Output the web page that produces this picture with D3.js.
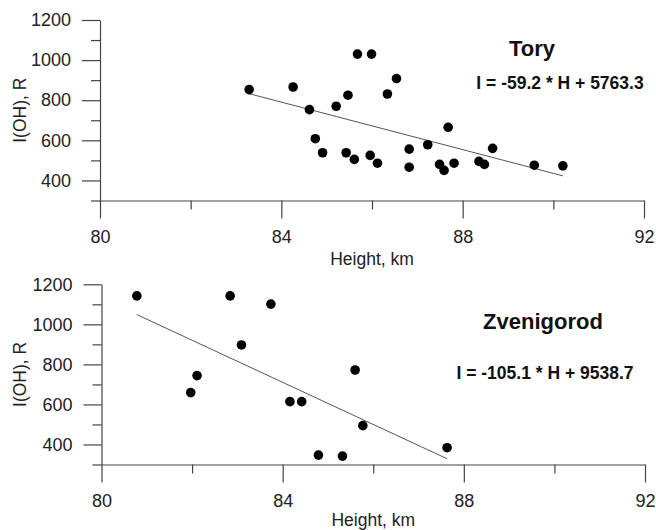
<!DOCTYPE html>
<html>
<head>
<meta charset="utf-8">
<style>
  body { margin: 0; background: #fff; }
  svg { display: block; font-family: "Liberation Sans", Arial, sans-serif; }
  .tick text { fill: #222; }
</style>
<script src="https://cdn.jsdelivr.net/npm/d3@7"></script>
</head>
<body>
<div id="chart"></div>
<script>
// Tory station
const toryHeight = [83.29, 84.26, 84.62, 84.75, 84.91, 85.21, 85.47, 85.68, 85.99, 86.54, 86.34,
  85.43, 85.61, 85.96, 86.12, 86.82, 86.82, 87.23, 87.68, 87.49, 87.59, 87.81, 88.36, 88.48,
  88.66, 89.58, 90.21];
const toryIntensity = [853, 866, 753, 608, 538, 770, 825, 1030, 1030, 908, 831,
  538, 505, 525, 486, 556, 466, 578, 665, 480, 450, 486, 495, 480,
  560, 476, 473];
const toryFit = [-59.2, 5763.3];

// Zvenigorod station
const zvenHeight = [80.78, 81.97, 82.11, 82.84, 83.09, 83.74, 84.16, 84.42, 84.79, 85.32, 85.60, 85.77, 87.63];
const zvenIntensity = [1142, 659, 744, 1142, 897, 1101, 614, 614, 347, 342, 772, 494, 384];
const zvenFit = [-105.1, 9538.7];

const xMajor = [80, 84, 88, 92];
const xMinor = [82, 86, 90];
const yMajor = [400, 600, 800, 1000, 1200];
const yMinor = [300, 500, 700, 900, 1100];

const width = 656, height = 530;
const svg = d3.select("#chart").append("svg")
  .attr("width", width).attr("height", height);

function drawPanel(p) {
  const x = d3.scaleLinear().domain([80, 92]).range([p.left, p.right]);
  const y = d3.scaleLinear().domain([300, 1200]).range([p.bottom, p.top]);
  const g = svg.append("g");

  // minor ticks
  g.append("g").attr("transform", `translate(0,${p.bottom})`)
    .call(d3.axisBottom(x).tickValues(xMinor).tickSize(9).tickSizeOuter(0).tickFormat(""))
    .call(a => a.select(".domain").remove());
  g.append("g").attr("transform", `translate(${p.left},0)`)
    .call(d3.axisLeft(y).tickValues(yMinor).tickSize(9).tickSizeOuter(0).tickFormat(""))
    .call(a => a.select(".domain").remove());

  // major ticks with labels
  const xa = g.append("g").attr("transform", `translate(0,${p.bottom})`)
    .call(d3.axisBottom(x).tickValues(xMajor).tickFormat(d3.format("d"))
      .tickSize(18).tickSizeOuter(0).tickPadding(12));
  const ya = g.append("g").attr("transform", `translate(${p.left},0)`)
    .call(d3.axisLeft(y).tickValues(yMajor).tickFormat(d3.format("d"))
      .tickSize(18).tickSizeOuter(0).tickPadding(11));

  [xa, ya].forEach(a => a.selectAll("text").style("font-size", "18px").attr("font-family", null));
  g.selectAll(".tick line, .domain").attr("stroke", "#444").attr("stroke-width", 1.2);

  // axis titles
  g.append("text")
    .attr("x", (p.left + p.right) / 2).attr("y", p.xLabelY)
    .attr("text-anchor", "middle")
    .style("font-size", "17.5px").attr("fill", "#222")
    .text("Height, km");
  g.append("text")
    .attr("transform", `translate(20,${(p.top + p.bottom) / 2}) rotate(-90)`)
    .attr("text-anchor", "middle").attr("dy", "0.35em")
    .style("font-size", "17.5px").attr("fill", "#222")
    .text("I(OH), R");

  // regression line over the data range
  const ext = d3.extent(p.h);
  const fit = h => p.fit[0] * h + p.fit[1];
  g.append("line")
    .attr("x1", x(ext[0])).attr("y1", y(fit(ext[0])))
    .attr("x2", x(ext[1])).attr("y2", y(fit(ext[1])))
    .attr("stroke", "#555").attr("stroke-width", 1);

  // points
  g.selectAll("circle").data(p.h).enter().append("circle")
    .attr("cx", d => x(d))
    .attr("cy", (d, i) => y(p.v[i]))
    .attr("r", 4.8)
    .attr("fill", "#000");

  // station name and equation
  g.append("text")
    .attr("x", p.titleX).attr("y", p.titleY).attr("dy", "0.35em")
    .attr("text-anchor", "middle")
    .style("font-size", "22px").style("font-weight", "bold").attr("fill", "#111")
    .text(p.name);
  g.append("text")
    .attr("x", p.eqX).attr("y", p.eqY).attr("dy", "0.35em")
    .attr("text-anchor", "middle")
    .style("font-size", "17.5px").style("font-weight", "bold").attr("fill", "#111")
    .text(`I = ${p.fit[0]} * H + ${p.fit[1]}`);
}

drawPanel({
  h: toryHeight, v: toryIntensity, fit: toryFit, name: "Tory",
  left: 100, right: 644, top: 20, bottom: 200.5, xLabelY: 265,
  titleX: 532, titleY: 48, eqX: 560, eqY: 83
});
drawPanel({
  h: zvenHeight, v: zvenIntensity, fit: zvenFit, name: "Zvenigorod",
  left: 101.5, right: 645, top: 284.3, bottom: 464.5, xLabelY: 526,
  titleX: 543, titleY: 321, eqX: 545, eqY: 373
});
</script>
</body>
</html>
